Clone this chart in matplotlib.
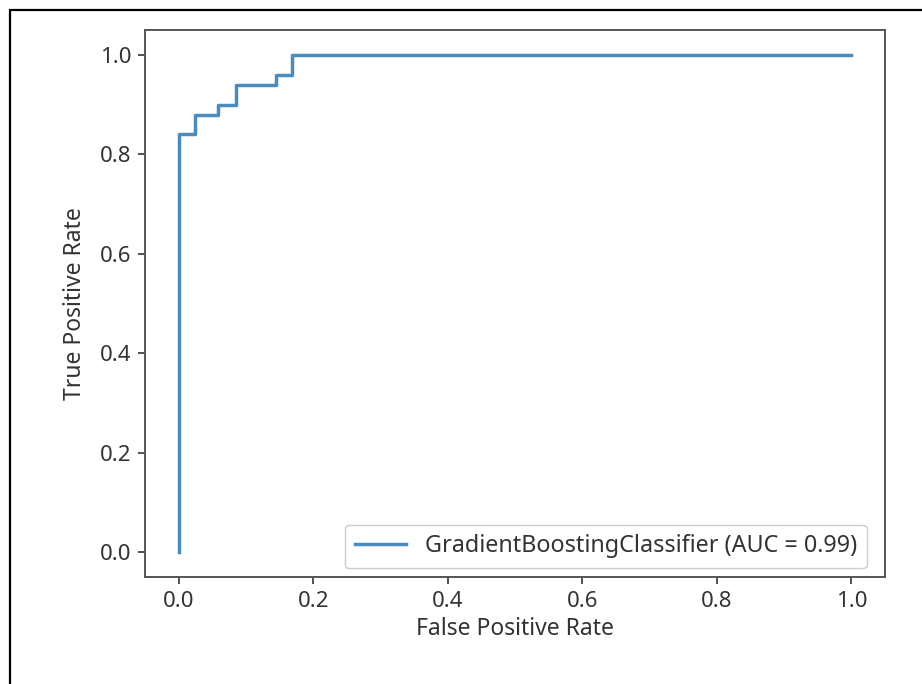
import matplotlib
matplotlib.use("Agg")
import matplotlib.pyplot as plt
from matplotlib.patches import Rectangle

fpr = [0.0, 0.0, 0.025, 0.025, 0.058, 0.058, 0.085, 0.085, 0.145, 0.145, 0.168, 0.168, 1.0]
tpr = [0.0, 0.84, 0.84, 0.88, 0.88, 0.90, 0.90, 0.94, 0.94, 0.96, 0.96, 1.0, 1.0]
label = "GradientBoostingClassifier (AUC = 0.99)"
xticks = [0.0, 0.2, 0.4, 0.6, 0.8, 1.0]
yticks = [0.0, 0.2, 0.4, 0.6, 0.8, 1.0]

plt.rcParams['font.family'] = ['Noto Sans', 'DejaVu Sans']
W, H = 922, 684
fig = plt.figure(figsize=(W/100, H/100), dpi=100)
fig.patches.append(Rectangle((10/W, -0.1), 1.2, (H-10)/H + 0.1, transform=fig.transFigure,
                             fill=False, edgecolor='black', linewidth=1.6))
ax = fig.add_axes([145/W, 1 - 577/H, (885-145)/W, (577-30)/H])
ax.plot(fpr, tpr, color='#4a8bc0', linewidth=2.5, label=label)
ax.set_xlim(-0.05, 1.05)
ax.set_ylim(-0.05, 1.05)
ax.set_xticks(xticks)
ax.set_yticks(yticks)
ax.set_xticklabels([f"{v:.1f}" for v in xticks])
ax.set_yticklabels([f"{v:.1f}" for v in yticks])
ax.tick_params(labelsize=16, colors='#333333', length=5, width=1.2, pad=5)
for s in ax.spines.values():
    s.set_color('#555555')
    s.set_linewidth(1.4)
ax.set_xlabel("False Positive Rate", fontsize=16.5, color='#333333', labelpad=4)
ax.set_ylabel("True Positive Rate", fontsize=16.5, color='#333333', labelpad=9)
leg = ax.legend(loc='lower right', bbox_to_anchor=(0.975, 0.016), fontsize=16.8,
                framealpha=1, edgecolor='#cccccc', handlelength=2.2,
                borderpad=0.42, borderaxespad=0.0)
for t in leg.get_texts():
    t.set_color('#333333')
fig.savefig("out.png", dpi=100)
